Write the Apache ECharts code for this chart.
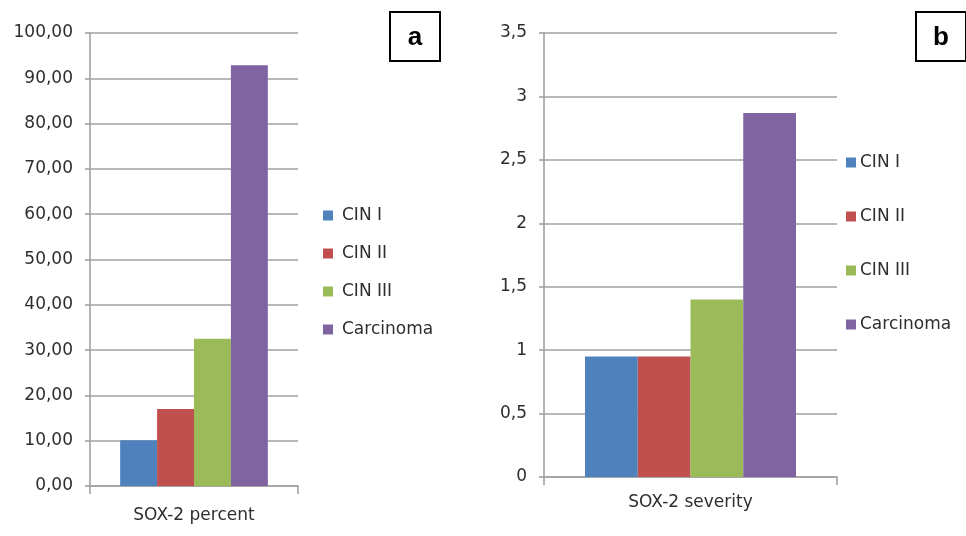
<!DOCTYPE html>
<html>
<head>
<meta charset="utf-8">
<script src="https://cdn.jsdelivr.net/npm/echarts@6/dist/echarts.min.js"></script>
<style>
html,body{margin:0;padding:0;background:#fff;}
#c{width:966px;height:536px;}
</style>
</head>
<body>
<div id="c"></div>
<script>
// ---- data ----
var groups = ['CIN I', 'CIN II', 'CIN III', 'Carcinoma'];
var colors = ['#4f81bd', '#c0504d', '#9bbb59', '#8064a2'];
var catA = ['SOX-2 percent'];
var catB = ['SOX-2 severity'];
var percentVals = [10.1, 17.0, 32.5, 92.9];
var severityVals = [0.95, 0.95, 1.4, 2.87];
var panelLabels = ['a', 'b'];

var FONT = 'DejaVu Sans';
var txt = '#2e2e2e';
var gridColor = '#a0a0a0';

var chart = echarts.init(document.getElementById('c'));

function comma(v, d) { return (d != null ? v.toFixed(d) : String(v)).replace('.', ','); }

var series = [];
groups.forEach(function (g, i) {
  series.push({
    name: g, type: 'bar', xAxisIndex: 0, yAxisIndex: 0,
    data: [percentVals[i]], itemStyle: { color: colors[i] },
    barGap: '0%', barCategoryGap: '29%', animation: false
  });
});
groups.forEach(function (g, i) {
  series.push({
    name: g, type: 'bar', xAxisIndex: 1, yAxisIndex: 1,
    data: [severityVals[i]], itemStyle: { color: colors[i] },
    barGap: '0%', barCategoryGap: '28%', animation: false
  });
});

function yAxis(grid, max, interval, fmt) {
  return {
    type: 'value', gridIndex: grid, min: 0, max: max, interval: interval,
    axisLine: { show: true, lineStyle: { color: gridColor, width: 1.6 } },
    axisTick: { show: true, length: 5, lineStyle: { color: gridColor, width: 1.6 } },
    splitLine: { lineStyle: { color: gridColor, width: 1.6 } },
    axisLabel: { formatter: fmt, color: txt, fontFamily: FONT, fontSize: 17, margin: 17 }
  };
}
function xAxis(grid, data, margin) {
  return {
    type: 'category', gridIndex: grid, data: data,
    axisLine: { lineStyle: { color: gridColor, width: 1.6 } },
    axisTick: { show: true, length: 8, lineStyle: { color: gridColor, width: 1.6 } },
    axisLabel: { color: txt, fontFamily: FONT, fontSize: 17, margin: margin }
  };
}

function box(cx, cy, label) {
  return {
    type: 'group', left: cx - 25, top: cy - 25,
    children: [
      { type: 'rect', shape: { x: 0, y: 0, width: 50, height: 49 },
        style: { fill: '#fff', stroke: '#000', lineWidth: 2 } },
      { type: 'text', x: 25, y: 26,
        style: { text: label, font: 'bold 26px "Liberation Sans", Arial', fill: '#000',
                 textAlign: 'center', textVerticalAlign: 'middle' } }
    ]
  };
}

chart.setOption({
  backgroundColor: '#fff',
  animation: false,
  grid: [
    { left: 90, top: 33, width: 208, height: 453 },
    { left: 544, top: 33, width: 293, height: 444 }
  ],
  xAxis: [xAxis(0, catA, 21), xAxis(1, catB, 17)],
  yAxis: [
    yAxis(0, 100, 10, function (v) { return comma(v, 2); }),
    yAxis(1, 3.5, 0.5, function (v) { return comma(v); })
  ],
  legend: [
    { orient: 'vertical', left: 318, top: 202, itemWidth: 10, itemHeight: 10, itemGap: 21,
      icon: 'rect', data: groups,
      textStyle: { color: txt, fontFamily: FONT, fontSize: 17, lineHeight: 17, padding: [0, 0, 0, 4] } },
    { orient: 'vertical', left: 841, top: 149, itemWidth: 10, itemHeight: 10, itemGap: 37,
      icon: 'rect', data: groups,
      textStyle: { color: txt, fontFamily: FONT, fontSize: 17, lineHeight: 17, padding: [0, 0, 0, -1] } }
  ],
  graphic: [box(414, 36, panelLabels[0]), box(940, 36, panelLabels[1])],
  series: series
});
</script>
</body>
</html>
